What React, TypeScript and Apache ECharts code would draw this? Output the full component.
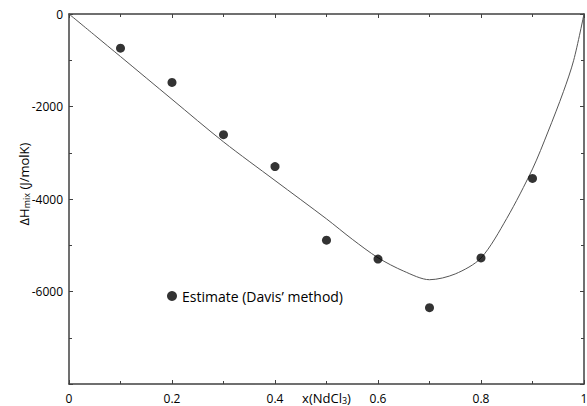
import React, { useEffect, useRef } from "react";
import * as echarts from "echarts";

const estimateX = [0.1, 0.2, 0.3, 0.4, 0.5, 0.6, 0.7, 0.8, 0.9];
const estimateY = [-740, -1480, -2610, -3300, -4890, -5300, -6350, -5275, -3555];

const curveX = [0, 0.05, 0.1, 0.2, 0.3, 0.4, 0.5, 0.55, 0.6, 0.65, 0.7, 0.75, 0.8, 0.85, 0.9, 0.93, 0.96, 0.98, 1.0];
const curveY = [0, -460, -920, -1845, -2765, -3600, -4430, -4870, -5270, -5560, -5745, -5620, -5275, -4420, -3350, -2550, -1680, -1000, 0];

const xTicks = [0, 0.2, 0.4, 0.6, 0.8, 1];
const yTicks = [0, -2000, -4000, -6000];

export default function App() {
  const ref = useRef<HTMLDivElement>(null);
  useEffect(() => {
    if (!ref.current) return;
    const chart = echarts.init(ref.current, null, { renderer: "svg" });
    const font = "Open Sans";
    const axisLineStyle = { color: "#404040", width: 1.5 };
    const base = {
      axisLine: { show: true, lineStyle: axisLineStyle, onZero: false },
      axisTick: { show: true, inside: true, length: 4, lineStyle: { color: "#404040" } },
      minorTick: { show: true, splitNumber: 2, length: 3, lineStyle: { color: "#404040" } },
      splitLine: { show: false },
    };
    chart.setOption({
      animation: false,
      backgroundColor: "#fff",
      grid: { left: 69, top: 14, right: 3, bottom: 22, containLabel: false, outerBoundsMode: "none" },
      legend: {
        show: true,
        left: 162,
        top: 284,
        data: [{ name: "Estimate (Davis’ method)", icon: "circle" }],
        itemWidth: 10,
        itemHeight: 10,
        itemGap: 9,
        textStyle: { fontFamily: font, fontSize: 14, color: "#000" },
      },
      xAxis: [
        {
          ...base,
          type: "value",
          min: 0,
          max: 1,
          interval: 0.2,
          position: "bottom",
          axisLabel: {
            fontFamily: font,
            fontSize: 12,
            color: "#000",
            margin: 8,
            formatter: (v: number) => {
              const t = xTicks.find((x) => Math.abs(x - v) < 1e-6);
              return t === undefined ? "" : String(t);
            },
          },
          name: "{a|x(NdCl}{s|3}{a|)}",
          nameLocation: "middle",
          nameGap: 7,
          nameMoveOverlap: false,
          nameTextStyle: {
            rich: {
              a: { fontFamily: font, fontSize: 13, color: "#000", lineHeight: 14 },
              s: { fontFamily: font, fontSize: 9, color: "#000", lineHeight: 8, verticalAlign: "bottom" },
            },
          },
        },
        {
          ...base,
          type: "value",
          min: 0,
          max: 1,
          interval: 0.2,
          position: "top",
          axisLabel: { show: false },
        },
      ],
      yAxis: [
        {
          ...base,
          type: "value",
          min: -8000,
          max: 0,
          interval: 2000,
          position: "left",
          axisLabel: {
            fontFamily: font,
            fontSize: 12,
            color: "#000",
            margin: 6,
            formatter: (v: number) => (yTicks.includes(v) ? String(v) : ""),
          },
          name: "{a|ΔH}{s|mix}{a| (J/molK)}",
          nameLocation: "middle",
          nameGap: 38,
          nameRotate: 90,
          nameMoveOverlap: false,
          nameTextStyle: {
            padding: [0, 0, 0, 30],
            rich: {
              a: { fontFamily: font, fontSize: 13, color: "#000" },
              s: { fontFamily: font, fontSize: 9, color: "#000", padding: [6, 0, 0, 0] },
            },
          },
        },
        {
          ...base,
          type: "value",
          min: -8000,
          max: 0,
          interval: 2000,
          position: "right",
          axisLabel: { show: false },
        },
      ],
      series: [
        {
          name: "curve",
          type: "line",
          data: curveX.map((x, i) => [x, curveY[i]]),
          smooth: 0.3,
          showSymbol: false,
          symbol: "none",
          lineStyle: { color: "#555", width: 1 },
          z: 2,
        },
        {
          name: "Estimate (Davis’ method)",
          type: "scatter",
          data: estimateX.map((x, i) => [x, estimateY[i]]),
          symbol: "circle",
          symbolSize: 9,
          itemStyle: { color: "#000" },
          z: 3,
        },
      ],
    });
    return () => chart.dispose();
  }, []);
  return <div ref={ref} style={{ width: 587, height: 406, position: "absolute", left: 0, top: 0 }} />;
}
